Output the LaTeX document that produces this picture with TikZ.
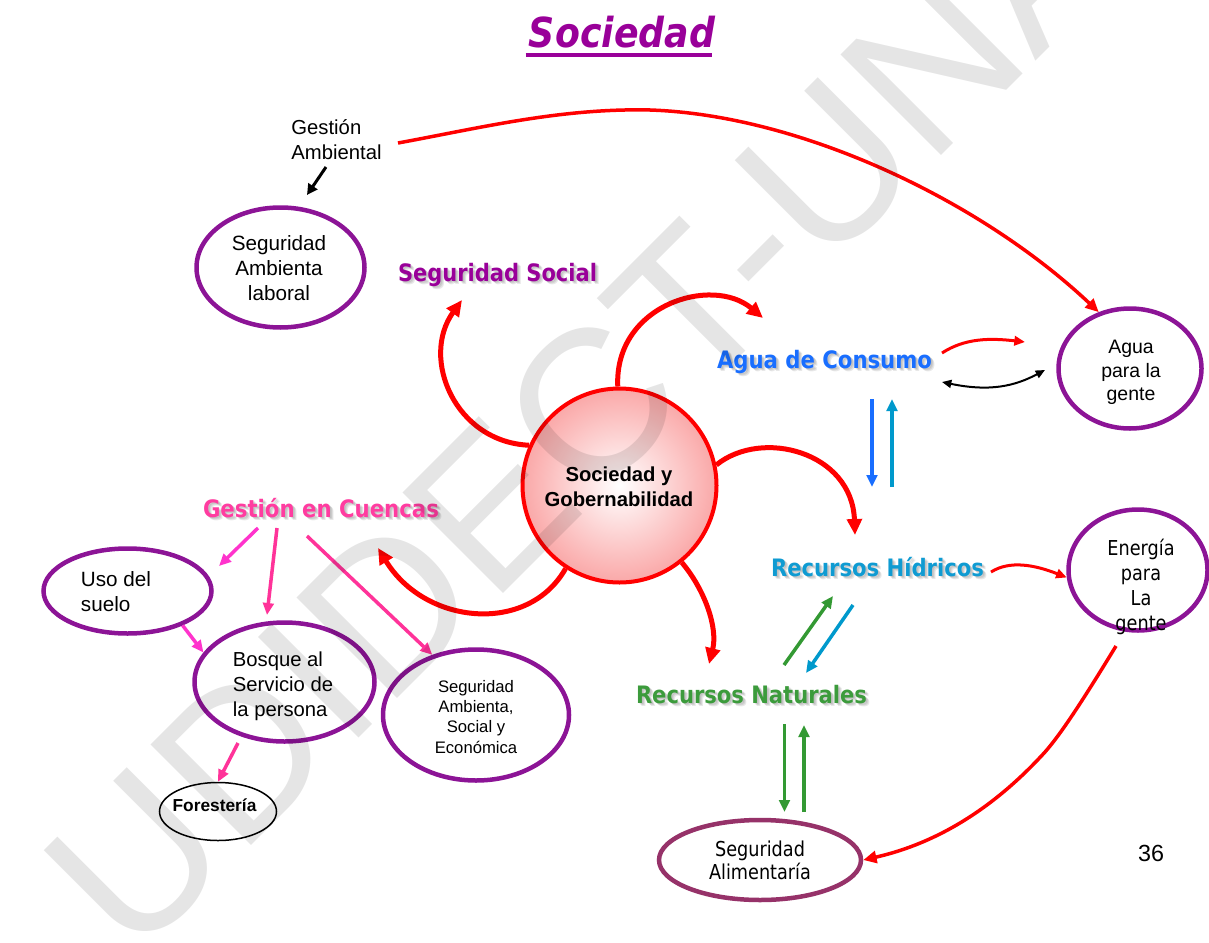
\documentclass[tikz,border=0pt]{standalone}
\usepackage{fontspec}
\setmainfont{Liberation Sans}
\newfontfamily\headfont{DejaVu Sans}
\newfontfamily\narrowfont[FakeStretch=0.86]{DejaVu Sans}
\usetikzlibrary{arrows.meta,shapes.geometric}
\newlength\pxu
\setlength\pxu{0.75pt}

\definecolor{ellpurple}{RGB}{140,20,150}
\definecolor{headpurple}{RGB}{153,0,153}
\definecolor{aguablue}{RGB}{25,110,255}
\definecolor{hidroblue}{RGB}{15,155,210}
\definecolor{natgreen}{RGB}{60,155,60}
\definecolor{cuencapink}{RGB}{255,60,160}
\definecolor{magarrow}{RGB}{255,51,204}
\definecolor{pinkarrow}{RGB}{255,51,153}
\definecolor{arrowgreen}{RGB}{51,153,51}
\definecolor{arrowteal}{RGB}{0,153,204}
\definecolor{alimplum}{RGB}{150,50,105}
\definecolor{circpink}{RGB}{250,168,168}

% heading with a soft grey drop shadow: name, x, baseline y, width, colour, text
\newcommand\headlabel[6]{%
  \node[headshadow] at (#2+1.5,#3+1.5) {\resizebox{#4\pxu}{\height}{#6}};%
  \node[headshadow] at (#2+2.5,#3+2.5) {\resizebox{#4\pxu}{\height}{#6}};%
  \node[headshadow] at (#2+3.5,#3+3.5) {\resizebox{#4\pxu}{\height}{#6}};%
  \node[head, text=#5] (#1) at (#2,#3) {\resizebox{#4\pxu}{\height}{#6}};}

\begin{document}
\begin{tikzpicture}[x=0.75pt,y=-0.75pt,
  ell/.style={ellipse, draw=ellpurple, line width=4.5\pxu, inner sep=0pt},
  lbl/.style={inner sep=0pt, align=center},
  head/.style={anchor=base, inner sep=0pt, font=\headfont\bfseries\fontsize{18pt}{20pt}\selectfont},
  headshadow/.style={head, text=black, text opacity=0.09},
  thickred/.style={draw=red, line width=5\pxu, -{Triangle[length=12pt,width=11pt]}},
  bigred/.style={draw=red, line width=3.5\pxu, -{Triangle[length=10pt,width=9pt]}},
  smallred/.style={draw=red, line width=3\pxu, -{Triangle[length=8pt,width=7pt]}},
  flowarr/.style={line width=3.5\pxu, -{Triangle[length=9pt,width=8pt]}},
  blackarr/.style={draw=black, line width=3\pxu, -{Triangle[length=8pt,width=8pt]}},
  blackdbl/.style={draw=black, line width=2\pxu, {Triangle[length=7pt,width=6pt]}-{Triangle[length=7pt,width=6pt]}}]

\useasboundingbox (0,0) rectangle (1209,942);

% ---- title ----
\node[anchor=base, inner sep=0pt, text=headpurple,
      font=\headfont\bfseries\itshape\fontsize{31pt}{34pt}\selectfont] (title) at (622,48)
      {\resizebox{186\pxu}{\height}{Sociedad}};
\draw[headpurple, line width=4\pxu] ([shift={(-3,7)}]title.base west) -- ([shift={(-3,7)}]title.base east);

% ---- central circle ----
\node[circle, draw=red, line width=4\pxu, minimum size=194\pxu, inner sep=0pt,
      shading=radial, inner color=white, outer color=circpink] (sg) at (619.5,485.5) {};
\node[lbl, font=\bfseries\fontsize{15.2pt}{18.75pt}\selectfont] (sgt) at (619,486.5) {Sociedad y\\Gobernabilidad};

% ---- headings ----
\headlabel{ss}{497.5}{281}{199}{headpurple}{Seguridad Social}
\headlabel{ac}{824.5}{368}{215}{aguablue}{Agua de Consumo}
\headlabel{rh}{877.5}{576}{213}{hidroblue}{Recursos Hídricos}
\headlabel{rn}{751.5}{703}{231}{natgreen}{Recursos Naturales}
\headlabel{gc}{321}{517}{236}{cuencapink}{Gestión en Cuencas}

% ---- ellipses ----
\node[ell, minimum width=168\pxu, minimum height=120\pxu] (sal) at (280.5,267.5) {};
\node[ell, minimum width=143\pxu, minimum height=120\pxu] (apg) at (1130,368.5) {};
\node[ell, minimum width=139\pxu, minimum height=121\pxu] (en) at (1138,570) {};
\node[ell, draw=alimplum, minimum width=202\pxu, minimum height=80\pxu] (sa) at (760,860) {};
\node[ell, minimum width=168\pxu, minimum height=85\pxu] (uso) at (127.5,591) {};
\node[ell, minimum width=180\pxu, minimum height=119\pxu] (bos) at (284.5,682) {};
\node[ell, minimum width=186\pxu, minimum height=131\pxu] (sas) at (476,715) {};
\node[ell, draw=black, line width=1.5\pxu, minimum width=117\pxu, minimum height=58\pxu] (fo) at (218,811.5) {};

% ---- texts ----
\node[lbl, align=left, font=\fontsize{15.2pt}{18.75pt}\selectfont] (ga) at (336.5,140) {Gestión\\Ambiental};
\node[lbl, font=\fontsize{15.5pt}{18.75pt}\selectfont] (salt) at (279,268.5) {Seguridad\\Ambienta\\laboral};
\node[lbl, font=\fontsize{14.6pt}{17.6pt}\selectfont] (apgt) at (1131,372.5) {Agua\\para la\\gente};
\node[lbl, font=\narrowfont\fontsize{15.4pt}{18.6pt}\selectfont] (ent) at (1141,587) {Energía\\para\\La\\gente};
\node[lbl, font=\narrowfont\fontsize{15.4pt}{17.25pt}\selectfont] (sat) at (760,860) {Seguridad\\Alimentaría};
\node[lbl, align=left, font=\fontsize{15.5pt}{18.75pt}\selectfont] (usot) at (116,592) {Uso del\\suelo};
\node[lbl, align=left, font=\fontsize{15.2pt}{18.75pt}\selectfont] (bost) at (283,686) {Bosque al\\Servicio de\\la persona};
\node[lbl, font=\fontsize{12.5pt}{15.3pt}\selectfont] (sast) at (476,716.7) {Seguridad\\Ambienta,\\Social y\\Económica};
\node[lbl, font=\bfseries\fontsize{13pt}{15pt}\selectfont] (fot) at (214.5,805) {Forestería};
\node[lbl, font=\fontsize{17.5pt}{20pt}\selectfont] (pg) at (1151,853) {36};

% ---- free connector ends ----
\coordinate (gaOut) at (398,143);
\coordinate (gaDown) at (326,167);
\coordinate (salTop) at (307,195);
\coordinate (ssTip) at (462,300);
\coordinate (acTip) at (763,318);
\coordinate (rhTip) at (855,535);
\coordinate (rnTip) at (709,664);
\coordinate (gcTip) at (378,548);
\coordinate (acOut1) at (942,353);
\coordinate (acTipR) at (1025,342);
\coordinate (acOut2) at (942,382);
\coordinate (apgIn) at (1045,370);
\coordinate (acDownA) at (872,399);
\coordinate (rhUpA) at (872,487);
\coordinate (rhUpB) at (892,487);
\coordinate (acDownB) at (892,399);
\coordinate (rhOut) at (991,572);
\coordinate (rnUp1) at (784,665);
\coordinate (rhIn1) at (833,596);
\coordinate (rhOut2) at (853,605);
\coordinate (rnIn2) at (806,673);
\coordinate (rnDownA) at (784.5,724);
\coordinate (saTopA) at (784.5,812);
\coordinate (saTopB) at (804,812);
\coordinate (rnDownB) at (804,725);
\coordinate (enOut) at (1116,646);
\coordinate (gc1) at (258,528);
\coordinate (usoTip) at (219,566);
\coordinate (gc2) at (277,528);
\coordinate (bosTip) at (267,615);
\coordinate (gc3) at (307,536);
\coordinate (bosOut) at (238,743);

% ---- connectors from the central circle ----
\draw[thickred] (sg.156) .. controls (455,442) and (420,358) .. (ssTip);
\draw[thickred] (sg.91) .. controls (614,305) and (712,275) .. (acTip);
\draw[thickred] (sg.12) .. controls (762,428) and (852,452) .. (rhTip);
\draw[thickred] (sg.-51) .. controls (705,590) and (718,628) .. (rnTip);
\draw[thickred] (sg.-123) .. controls (528,635) and (425,625) .. (gcTip);

% ---- Gestión Ambiental ----
\draw[blackarr] (gaDown) -- (salTop);
\draw[bigred] (gaOut) .. controls (480,128) and (560,108) .. (650,110)
              .. controls (800,115) and (980,200) .. (apg.119);

% ---- Agua de Consumo ----
\draw[smallred] (acOut1) .. controls (965,338) and (990,338) .. (acTipR);
\draw[blackdbl] (acOut2) .. controls (990,392) and (1015,386) .. (apgIn);
\draw[flowarr, aguablue] (acDownA) -- (rhUpA);
\draw[flowarr, arrowteal] (rhUpB) -- (acDownB);

% ---- Recursos Hídricos / Naturales ----
\draw[smallred] (rhOut) .. controls (1010,560) and (1035,565) .. (en.186);
\draw[flowarr, arrowgreen] (rnUp1) -- (rhIn1);
\draw[flowarr, arrowteal] (rhOut2) -- (rnIn2);
\draw[flowarr, arrowgreen] (rnDownA) -- (saTopA);
\draw[flowarr, arrowgreen] (saTopB) -- (rnDownB);
\draw[bigred] (enOut) .. controls (1080,705) and (1060,735) .. (1045,752)
              .. controls (985,818) and (925,846) .. (sa.east);

% ---- Gestión en Cuencas ----
\draw[flowarr, magarrow] (gc1) -- (usoTip);
\draw[flowarr, pinkarrow] (gc2) -- (bosTip);
\draw[flowarr, pinkarrow] (gc3) -- (sas.126);
\draw[flowarr, magarrow] (uso.-32) -- (bos.160);
\draw[flowarr, pinkarrow] (bosOut) -- (fo.north);

% ---- watermark ----
\node[rotate=45, inner sep=0pt, text=black, text opacity=0.1,
      font=\fontsize{155pt}{155pt}\selectfont] (wm) at (583,413) {UDIDECT-UNA};
\end{tikzpicture}
\end{document}
